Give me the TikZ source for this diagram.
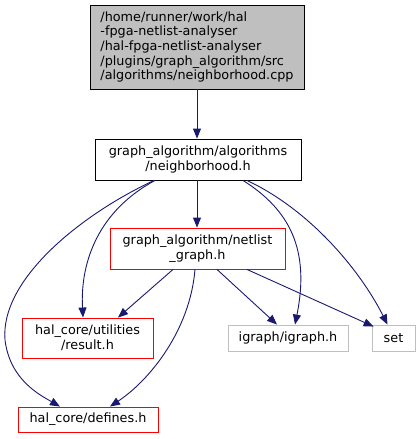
\documentclass[tikz,border=0pt]{standalone}
\usepackage{fontspec}
\setmainfont{DejaVu Sans}
\usetikzlibrary{arrows.meta}
\definecolor{edgeblue}{HTML}{191970}
\definecolor{grayfill}{HTML}{BFBFBF}
\begin{document}
\begin{tikzpicture}[x=1pt,y=-1pt,
  every node/.style={font=\fontsize{12.8}{14.6}\selectfont, align=center, inner sep=0pt, line width=0.9pt},
  box/.style={draw, rectangle},
  mainbox/.style={box, draw=black, fill=grayfill, align=left},
  blackbox/.style={box, draw=black, fill=white},
  redbox/.style={box, draw=red, fill=white},
  graybox/.style={box, draw=grayfill, fill=white},
  edge/.style={draw=edgeblue, line width=0.9pt, -{Triangle[length=10pt,width=8pt]}}]
\useasboundingbox (0,0) rectangle (420,439);
\node[mainbox, minimum width=214, minimum height=84] (top) at (197,47)
  {/home/runner/work/hal\\-fpga-netlist-analyser\\/hal-fpga-netlist-analyser\\/plugins/graph\_algorithm/src\\/algorithms/neighborhood.cpp};
\node[blackbox, minimum width=206, minimum height=41] (nb) at (198,159.5)
  {graph\_algorithm/algorithms\\/neighborhood.h};
\node[redbox, minimum width=175, minimum height=41] (ng) at (197.5,248.5)
  {graph\_algorithm/netlist\\\_graph.h};
\node[redbox, minimum width=131, minimum height=40] (res) at (87.5,338)
  {hal\_core/utilities\\/result.h};
\node[redbox, minimum width=140, minimum height=25] (def) at (88,419.5)
  {hal\_core/defines.h};
\node[graybox, minimum width=120, minimum height=26] (ig) at (288,338)
  {igraph/igraph.h};
\node[graybox, minimum width=43, minimum height=26] (set) at (393.5,338)
  {set};

\draw[edge] (top.south -| 197,0) -- (nb.north -| 197,0);
\draw[edge] (nb.south -| 197,0) -- (ng.north -| 197,0);
\draw[edge] ([xshift=-44pt]nb.south) .. controls (80,215) and (0,280) .. (5,340)
  .. controls (10,380) and (40,395) .. ([xshift=-28pt]def.north);
\draw[edge] ([xshift=-43pt]nb.south) .. controls (100,210) and (80,260) .. ([xshift=-4.5pt]res.north);
\draw[edge] ([xshift=45pt]nb.south) .. controls (290,210) and (310,250) .. ([xshift=7pt]ig.north);
\draw[edge] ([xshift=49pt]nb.south) .. controls (310,210) and (360,270) .. ([xshift=-6pt]set.north);
\draw[edge] ([xshift=-24.5pt]ng.south) -- ([xshift=30.5pt]res.north);
\draw[edge] ([xshift=-2.5pt]ng.south) .. controls (190,330) and (150,380) .. ([xshift=22pt]def.north);
\draw[edge] ([xshift=19.5pt]ng.south) -- ([xshift=-11pt]ig.north);
\draw[edge] ([xshift=49.5pt]ng.south) -- ([xshift=2pt,yshift=-2pt]set.north west);
\end{tikzpicture}
\end{document}
